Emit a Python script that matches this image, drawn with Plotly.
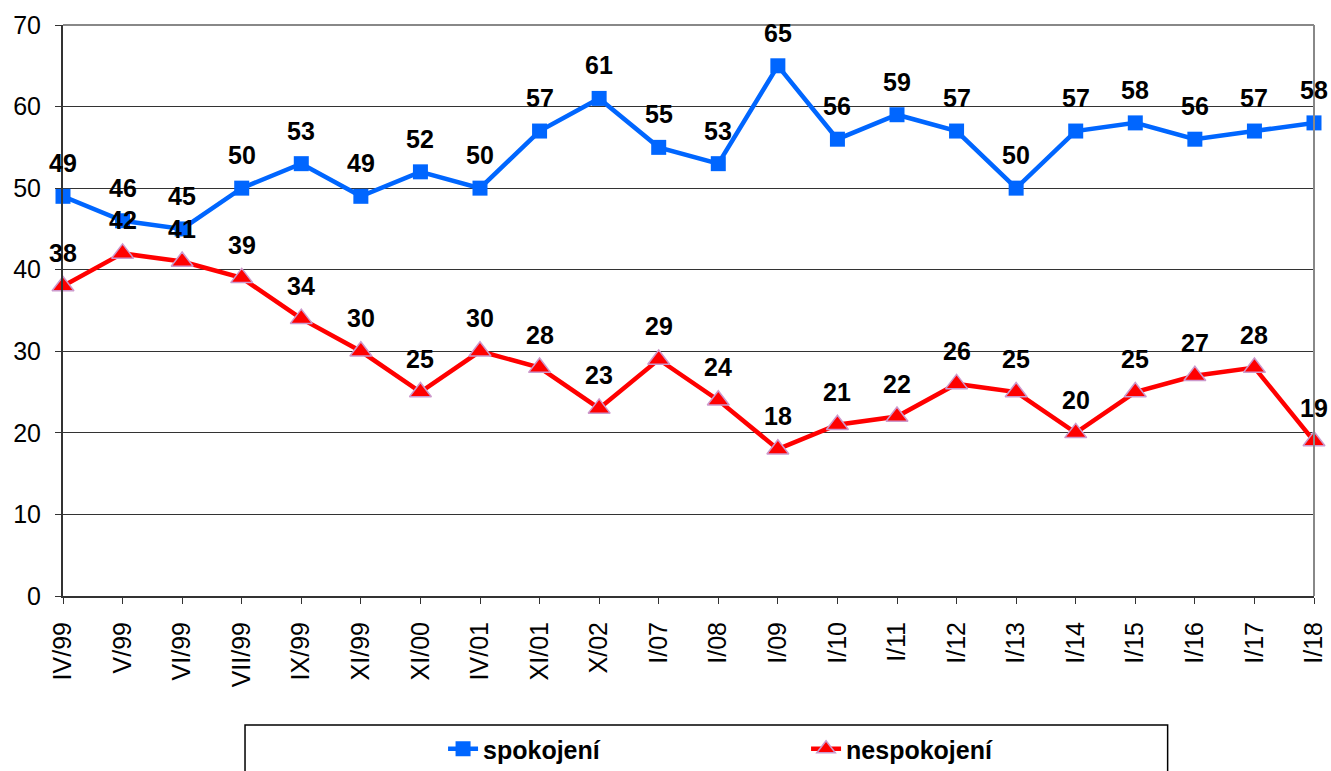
import plotly.graph_objects as go

# survey waves
waves = ["IV/99", "V/99", "VI/99", "VII/99", "IX/99", "XI/99", "XI/00", "IV/01",
         "XI/01", "X/02", "I/07", "I/08", "I/09", "I/10", "I/11", "I/12",
         "I/13", "I/14", "I/15", "I/16", "I/17", "I/18"]
spokojeni = [49, 46, 45, 50, 53, 49, 52, 50, 57, 61, 55, 53, 65, 56, 59, 57,
             50, 57, 58, 56, 57, 58]
nespokojeni = [38, 42, 41, 39, 34, 30, 25, 30, 28, 23, 29, 24, 18, 21, 22, 26,
               25, 20, 25, 27, 28, 19]

font = "Liberation Sans, Arial, sans-serif"

fig = go.Figure()
fig.add_trace(go.Scatter(
    x=waves, y=spokojeni, name="spokojení",
    mode="lines+markers",
    line=dict(color="#0066ff", width=4.5),
    marker=dict(symbol="square", size=15, color="#0066ff"),
    cliponaxis=False,
))
fig.add_trace(go.Scatter(
    x=waves, y=nespokojeni, name="nespokojení",
    mode="lines+markers",
    line=dict(color="#ff0000", width=4.5),
    marker=dict(symbol="triangle-up", size=19, color="#ff0000",
                line=dict(color="#cc99cc", width=1.5)),
    cliponaxis=False,
))

# value labels above each point
for series in (spokojeni, nespokojeni):
    for w, v in zip(waves, series):
        fig.add_annotation(x=w, y=v, text=str(v), showarrow=False,
                           yanchor="bottom", yshift=17,
                           font=dict(family=font, size=25, color="black",
                                     weight="bold"))

# legend frame
fig.add_shape(type="rect", xref="paper", yref="paper",
              x0=0.1455, x1=0.883, y0=-0.226, y1=-0.45,
              line=dict(color="black", width=1.5), fillcolor="white",
              layer="below")

fig.update_layout(
    width=1331, height=771,
    margin=dict(l=63, r=17, t=25, b=175),
    paper_bgcolor="white", plot_bgcolor="white",
    font=dict(family=font, size=25, color="black"),
    showlegend=True,
    legend=dict(orientation="h", x=0.3038, xanchor="left",
                yref="container", y=(771 - 749) / 771, yanchor="middle",
                entrywidth=318,
                font=dict(family=font, size=25, color="black", weight="bold"),
                bgcolor="rgba(0,0,0,0)"),
    xaxis=dict(type="category", range=[0, 21], tickangle=-90,
               showline=True, linecolor="#333", linewidth=2,
               ticks="outside", ticklen=6, tickcolor="#333",
               ticklabelstandoff=8, automargin=False,
               showgrid=False, mirror=False,
               tickfont=dict(family=font, size=25)),
    yaxis=dict(range=[0, 70], dtick=10, showline=True, linecolor="#333",
               linewidth=2, ticks="outside", ticklen=6, tickcolor="#333",
               ticklabelstandoff=9, automargin=False,
               showgrid=True, gridcolor="#333", gridwidth=1,
               zeroline=False, tickfont=dict(family=font, size=25)),
)

# plot frame top and right edges
fig.add_shape(type="line", xref="paper", yref="paper", x0=0, x1=1, y0=1, y1=1,
              line=dict(color="#888", width=2))
fig.add_shape(type="line", xref="paper", yref="paper", x0=1, x1=1, y0=0, y1=1,
              line=dict(color="#888", width=2))

# drop the default page margin so the figure fills the window
fig.write_html("out.html", config={"displayModeBar": False},
               post_script="document.body.style.margin='0';"
                           "document.body.style.overflow='hidden';")
